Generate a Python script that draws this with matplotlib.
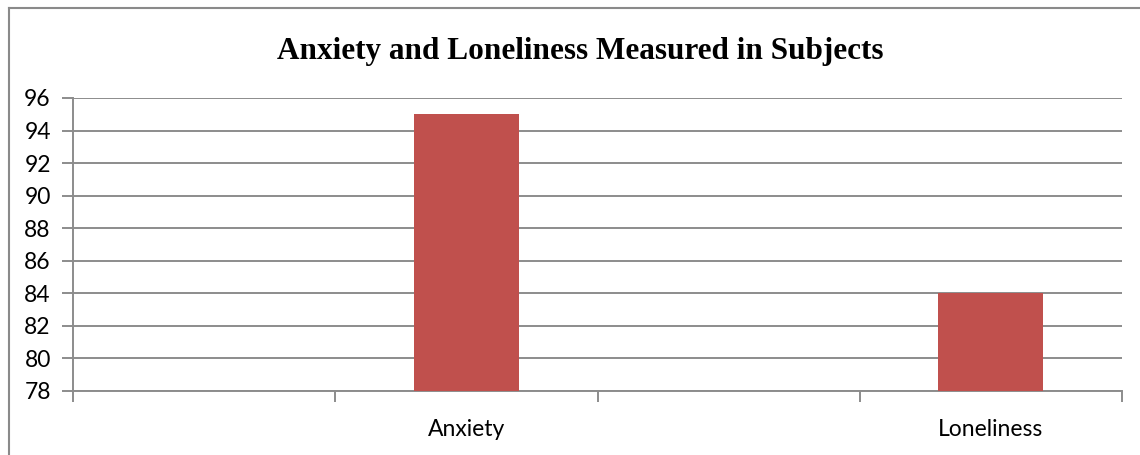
import matplotlib
matplotlib.use("Agg")
import matplotlib.pyplot as plt
from matplotlib.lines import Line2D

# 데이터: 빈 범주 2개 사이에 막대 2개 (원본 엑셀 차트 배치 그대로)
categories = ["", "Anxiety", "", "Loneliness"]
values = [None, 95, None, 84]
yticks = [78, 80, 82, 84, 86, 88, 90, 92, 94, 96]

W, H = 1140, 455
fig = plt.figure(figsize=(W / 100, H / 100), dpi=100)
ax = fig.add_axes([73 / W, 1 - 391 / H, (1122 - 73) / W, (391 - 98) / H])

GRID = "#8c8c8c"
BAR = "#C0504D"
FONT = ["Lato", "DejaVu Sans"]

xs = [i for i, v in enumerate(values) if v is not None]
hs = [v for v in values if v is not None]
ax.bar(xs, [h - 78 for h in hs], bottom=78, width=0.4, color=BAR, zorder=3)

ax.set_xlim(-0.5, len(categories) - 0.5)
ax.set_ylim(78, 96)
ax.set_yticks(yticks)
ax.set_yticklabels([str(t) for t in yticks], fontsize=16.5, family=FONT)
ax.yaxis.grid(True, color=GRID, linewidth=1.4, zorder=0)
ax.set_axisbelow(True)

# x축 눈금은 범주 경계에, 라벨은 범주 중앙에
ax.set_xticks([i - 0.5 for i in range(len(categories) + 1)])
ax.set_xticklabels([])
ax.set_xticks(range(len(categories)), minor=True)
ax.set_xticklabels(categories, minor=True, fontsize=16.5, family=FONT)
ax.tick_params(axis="x", which="minor", length=0, pad=20)
ax.tick_params(axis="x", which="major", length=8, width=1.4, color=GRID)
ax.tick_params(axis="y", length=8, width=1.4, color=GRID, pad=8)

for s in ["top", "right"]:
    ax.spines[s].set_visible(False)
for s in ["left", "bottom"]:
    ax.spines[s].set_color(GRID)
    ax.spines[s].set_linewidth(1.4)

fig.text(580 / W, 1 - 52 / H, "Anxiety and Loneliness Measured in Subjects",
         ha="center", va="center", fontsize=22.5, fontweight="bold",
         family=["Liberation Serif", "DejaVu Serif"])

# 차트 외곽 테두리 (왼쪽/위만 보임)
x0, y0 = 9 / W, 1 - 8 / H
fig.add_artist(Line2D([x0, 1.0], [y0, y0], transform=fig.transFigure, color="#8a8a8a", lw=1.5))
fig.add_artist(Line2D([x0, x0], [0.0, y0], transform=fig.transFigure, color="#8a8a8a", lw=1.5))

fig.savefig("out.png", dpi=100)
